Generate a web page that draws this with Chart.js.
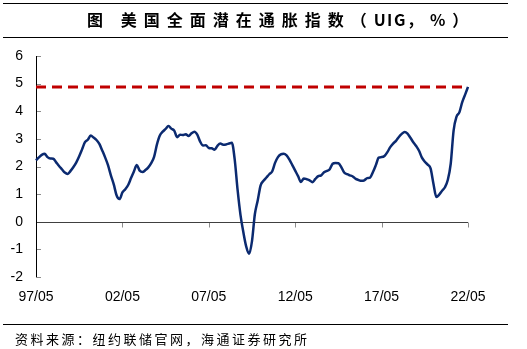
<!DOCTYPE html>
<html>
<head>
<meta charset="utf-8">
<script src="https://cdn.jsdelivr.net/npm/chart.js@4/dist/chart.umd.min.js"></script>
<style>
    html, body { margin: 0; padding: 0; background: #fff; }
    #wrap { position: relative; width: 527px; height: 349px; overflow: hidden; }
    #box { position: absolute; left: 0; top: 0; width: 527px; height: 349px; }
    .rule { position: absolute; left: 3px; width: 505px; height: 0; border-top: 1.5px solid #000; }
    #title { position: absolute; left: 87px; top: 9px; white-space: nowrap;
        font-family: "Noto Sans CJK SC", sans-serif; font-weight: bold; font-size: 16px;
        letter-spacing: 7px; line-height: 20px; color: #000; }
    #title .lat { letter-spacing: 1.5px; }
    #source { position: absolute; left: 15px; top: 331px; white-space: nowrap;
        font-family: "Noto Sans CJK SC", sans-serif; font-size: 13px; letter-spacing: 2.5px;
        line-height: 16px; color: #000; }
</style>
</head>
<body>
<div id="wrap">
    <div id="box"><canvas id="uigChart"></canvas></div>
    <div class="rule" style="top:3px"></div>
    <div id="title">图&nbsp;美国全面潜在通胀指数（<span class="lat">UIG</span>，%）</div>
    <div class="rule" style="top:37px"></div>
    <div class="rule" style="top:324px"></div>
    <div id="source">资料来源：纽约联储官网，海通证券研究所</div>
</div>
<script>
// 1997/05 - 2022/05, one value every two months
var startYear = 1997, startMonth = 5, stepMonths = 2;

var uigValues = [
    2.22, 2.33, 2.42, 2.46, 2.34, 2.29,   // 97/05
    2.28, 2.15, 2.02, 1.90, 1.78, 1.73,
    1.84, 1.98, 2.15, 2.37, 2.62, 2.88,
    2.97, 3.12, 3.05, 2.96, 2.82, 2.58,
    2.33, 2.05, 1.68, 1.35, 0.95, 0.82,
    1.06, 1.18, 1.33, 1.58, 1.82, 2.05,   // 02/05
    1.85, 1.80, 1.87, 1.97, 2.12, 2.35,
    2.80, 3.12, 3.26, 3.36, 3.47, 3.37,
    3.30, 3.06, 3.15, 3.14, 3.17, 3.10,
    3.20, 3.26, 3.15, 2.90, 2.76, 2.77,
    2.67, 2.66, 2.61, 2.75, 2.83, 2.79,   // 07/05
    2.80, 2.83, 2.86, 2.25, 1.15, 0.25,
    -0.38, -0.90, -1.16, -0.70, 0.28, 0.78,
    1.32, 1.48, 1.60, 1.72, 1.82, 2.13,
    2.34, 2.44, 2.46, 2.40, 2.25, 2.05,
    1.85, 1.65, 1.44, 1.57, 1.54, 1.50,   // 12/05
    1.43, 1.55, 1.65, 1.68, 1.79, 1.84,
    1.90, 2.10, 2.13, 2.12, 1.98, 1.78,
    1.72, 1.68, 1.64, 1.55, 1.51, 1.48,
    1.50, 1.58, 1.60, 1.80, 2.05, 2.32,
    2.34, 2.38, 2.52, 2.70, 2.83, 2.93,   // 17/05
    3.07, 3.18, 3.25, 3.19, 3.04, 2.88,
    2.74, 2.57, 2.32, 2.17, 2.07, 1.93,
    1.38, 0.90, 0.98, 1.12, 1.25, 1.52,
    2.10, 3.30, 3.80, 3.96, 4.33, 4.60,
    4.88                                  // 22/05
];
var refLevel = 4.88;
var yTicks = [-2, -1, 0, 1, 2, 3, 4, 5, 6];
var labelEvery = 30; // 30 steps = 5 years

var labels = [];
for (var i = 0; i < uigValues.length; i++) {
    var m = startMonth - 1 + i * stepMonths;
    var yy = (startYear + Math.floor(m / 12)) % 100;
    var mm = (m % 12) + 1;
    labels.push(String(yy).padStart(2, '0') + '/' + String(mm).padStart(2, '0'));
}
var refLine = uigValues.map(function () { return refLevel; });

// zero line, inward ticks and y axis line like the original
var axisDecor = {
    id: 'axisDecor',
    beforeDatasetsDraw: function (chart) {
        var ctx = chart.ctx, a = chart.chartArea;
        var x = chart.scales.x, y = chart.scales.y;
        ctx.save();
        ctx.lineWidth = 1;
        var y0 = Math.round(y.getPixelForValue(0)) + 0.5;
        ctx.strokeStyle = '#8c8c8c';
        ctx.beginPath();
        yTicks.forEach(function (v) {
            var py = Math.round(y.getPixelForValue(v)) + 0.5;
            ctx.moveTo(a.left, py);
            ctx.lineTo(a.left + 5, py);
        });
        for (var i = 0; i < labels.length; i += labelEvery) {
            var px = Math.round(x.getPixelForValue(i)) + 0.5;
            ctx.moveTo(px, y0);
            ctx.lineTo(px, y0 + 5);
        }
        ctx.stroke();
        ctx.strokeStyle = '#404040';
        ctx.beginPath();
        ctx.moveTo(a.left, y0);
        ctx.lineTo(a.right, y0);
        ctx.stroke();
        ctx.strokeStyle = '#000';
        ctx.beginPath();
        ctx.moveTo(Math.round(a.left) + 0.5, a.top);
        ctx.lineTo(Math.round(a.left) + 0.5, a.bottom);
        ctx.stroke();
        ctx.restore();
    }
};

var chart = new Chart(document.getElementById('uigChart'), {
    type: 'line',
    data: {
        labels: labels,
        datasets: [
            {
                label: 'UIG',
                data: uigValues,
                borderColor: '#0b2a70',
                borderWidth: 2.5,
                pointRadius: 0,
                fill: false,
                cubicInterpolationMode: 'monotone'
            },
            {
                label: 'ref',
                data: refLine,
                borderColor: '#c00000',
                borderWidth: 3,
                borderDash: [10, 6],
                pointRadius: 0,
                fill: false
            }
        ]
    },
    options: {
        responsive: true,
        maintainAspectRatio: false,
        animation: false,
        layout: { padding: { top: 56, right: 59, left: 0, bottom: 0 } },
        plugins: {
            legend: { display: false },
            tooltip: { enabled: false }
        },
        scales: {
            x: {
                type: 'category',
                grid: { display: false, drawTicks: false },
                border: { display: false },
                ticks: {
                    autoSkip: false,
                    maxRotation: 0,
                    padding: 12,
                    color: '#000',
                    font: { family: 'Liberation Sans', size: 14 },
                    callback: function (value, index) {
                        return index % labelEvery === 0 ? labels[index] : null;
                    }
                },
                afterFit: function (scale) { scale.height = 72; }
            },
            y: {
                min: -2,
                max: 6,
                grid: { display: false, drawTicks: false },
                border: { display: false },
                ticks: {
                    stepSize: 1,
                    padding: 13,
                    color: '#000',
                    font: { family: 'Liberation Sans', size: 14 }
                },
                afterFit: function (scale) { scale.width = 36; }
            }
        }
    },
    plugins: [axisDecor]
});
</script>
</body>
</html>
